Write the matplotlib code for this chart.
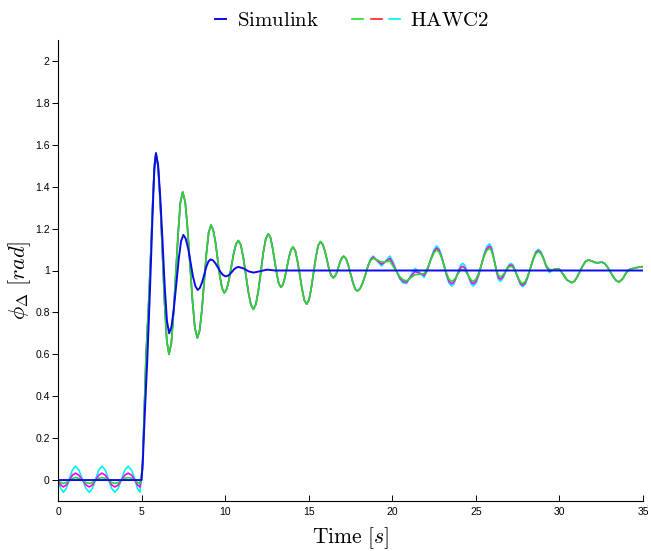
import matplotlib
matplotlib.use('Agg')
import matplotlib.pyplot as plt
from matplotlib.lines import Line2D
from matplotlib.legend_handler import HandlerTuple, HandlerLine2D

plt.rcParams['mathtext.fontset'] = 'cm'

# ---------------- data ----------------
# HAWC2, before the step (three variants)
t_pre = [0, 0.16, 0.32, 0.5, 0.68, 0.86, 1.04, 1.25, 1.46, 1.67, 1.87, 2.06, 2.25,
         2.44, 2.63, 2.83, 3.02, 3.21, 3.4, 3.6, 3.8, 4.0, 4.2, 4.4, 4.6, 4.75, 4.9]
green_pre = [0.000, -0.012, -0.016, -0.012, -0.002, 0.008, 0.012, 0.008, -0.002, -0.012,
             -0.016, -0.012, -0.002, 0.008, 0.012, 0.008, -0.002, -0.012, -0.016, -0.012,
             -0.002, 0.008, 0.012, 0.008, -0.002, -0.012, -0.016]
magenta_pre = [0.000, -0.023, -0.033, -0.023, 0.000, 0.023, 0.033, 0.023, 0.000, -0.023,
               -0.033, -0.023, 0.000, 0.023, 0.033, 0.023, 0.000, -0.023, -0.033, -0.023,
               0.000, 0.023, 0.033, 0.023, 0.000, -0.023, -0.033]
cyan_pre = [0.000, -0.040, -0.058, -0.040, 0.004, 0.048, 0.066, 0.048, 0.004, -0.040,
            -0.058, -0.040, 0.004, 0.048, 0.066, 0.048, 0.004, -0.040, -0.058, -0.040,
            0.004, 0.048, 0.066, 0.048, 0.004, -0.040, -0.058]

# HAWC2, transient (shared by the three variants)
t_main = [5.05, 5.15, 5.27, 5.4, 5.55, 5.68, 5.78, 5.86,
          5.99, 6.12, 6.25, 6.38, 6.51, 6.64,
          6.78, 6.91, 7.05, 7.19, 7.32, 7.46,
          7.61, 7.75, 7.9, 8.05, 8.19, 8.34,
          8.475, 8.61, 8.745, 8.88, 9.015, 9.15,
          9.28, 9.42, 9.55, 9.68, 9.82, 9.95,
          10.09, 10.23, 10.37, 10.51, 10.65, 10.79,
          10.94, 11.09, 11.24, 11.39, 11.54, 11.69,
          11.84, 11.99, 12.14, 12.28, 12.43, 12.58,
          12.71, 12.83, 12.96, 13.09, 13.21, 13.34,
          13.46, 13.58, 13.70, 13.82, 13.94, 14.06,
          14.2, 14.33, 14.47, 14.61, 14.74, 14.88,
          15.02, 15.15, 15.29, 15.43, 15.56, 15.7,
          15.83, 15.96, 16.09, 16.21, 16.34, 16.47,
          16.57, 16.68, 16.78, 16.88, 16.99, 17.09,
          17.23, 17.36, 17.5, 17.64, 17.77, 17.91,
          18.07, 18.23, 18.39]
v_main = [0.05, 0.3, 0.6, 0.8, 1.08, 1.35, 1.51, 1.56,
          1.496, 1.32, 1.08, 0.84, 0.664, 0.60,
          0.652, 0.794, 0.988, 1.181, 1.323, 1.375,
          1.328, 1.201, 1.027, 0.852, 0.725, 0.678,
          0.714, 0.813, 0.948, 1.082, 1.181, 1.217,
          1.195, 1.136, 1.055, 0.974, 0.915, 0.893,
          0.910, 0.956, 1.018, 1.081, 1.126, 1.143,
          1.121, 1.061, 0.979, 0.897, 0.837, 0.815,
          0.839, 0.905, 0.995, 1.085, 1.151, 1.175,
          1.158, 1.111, 1.048, 0.984, 0.937, 0.920,
          0.933, 0.968, 1.016, 1.064, 1.099, 1.112,
          1.094, 1.044, 0.976, 0.908, 0.858, 0.840,
          0.860, 0.915, 0.989, 1.064, 1.118, 1.138,
          1.126, 1.095, 1.052, 1.008, 0.977, 0.965,
          0.972, 0.991, 1.017, 1.042, 1.061, 1.068,
          1.057, 1.027, 0.985, 0.944, 0.913, 0.902,
          0.913, 0.941, 0.980]

# HAWC2, middle part (three variants)
t_mid = [18.54, 18.70, 18.86, 19.1, 19.36, 19.6, 19.86, 20.05, 20.26, 20.45,
         20.65, 20.86, 21.1, 21.36, 21.65, 21.9, 22.1, 22.3, 22.5, 22.65,
         22.8, 22.95, 23.1, 23.25, 23.4, 23.55, 23.66, 23.77, 23.88, 23.99,
         24.1, 24.21, 24.32, 24.42, 24.53, 24.64, 24.74, 24.85, 25.01, 25.17,
         25.33, 25.49, 25.65, 25.81, 25.92, 26.02, 26.13, 26.23, 26.34, 26.44,
         26.55, 26.66, 26.77, 26.88, 26.99, 27.1, 27.22, 27.33, 27.45, 27.57,
         27.68, 27.8, 27.96, 28.11, 28.27, 28.43, 28.58, 28.74, 28.9, 29.05,
         29.2, 29.4]
green_mid = [1.019, 1.048, 1.058, 1.050, 1.040, 1.042, 1.045, 1.020, 0.995, 0.970,
             0.955, 0.951, 0.965, 0.980, 0.982, 0.985, 1.010, 1.050, 1.085, 1.098,
             1.088, 1.061, 1.023, 0.986, 0.958, 0.948, 0.952, 0.963, 0.977, 0.992,
             1.002, 1.006, 1.002, 0.992, 0.977, 0.963, 0.952, 0.948, 0.959, 0.988,
             1.027, 1.067, 1.095, 1.106, 1.097, 1.072, 1.038, 1.004, 0.979, 0.970,
             0.973, 0.983, 0.995, 1.008, 1.017, 1.020, 1.015, 1.000, 0.979, 0.959,
             0.944, 0.938, 0.948, 0.976, 1.014, 1.052, 1.080, 1.090, 1.080, 1.055,
             1.025, 1.005]
magenta_mid = [1.020, 1.051, 1.064, 1.047, 1.030, 1.043, 1.057, 1.030, 0.995, 0.965,
               0.947, 0.944, 0.970, 0.995, 0.986, 0.976, 1.005, 1.052, 1.092, 1.107,
               1.096, 1.065, 1.022, 0.980, 0.948, 0.937, 0.942, 0.958, 0.978, 0.999,
               1.014, 1.020, 1.014, 0.999, 0.978, 0.958, 0.942, 0.937, 0.949, 0.982,
               1.027, 1.072, 1.104, 1.116, 1.106, 1.077, 1.038, 0.998, 0.969, 0.959,
               0.963, 0.976, 0.993, 1.010, 1.022, 1.027, 1.021, 1.003, 0.979, 0.955,
               0.937, 0.930, 0.941, 0.972, 1.013, 1.054, 1.084, 1.095, 1.084, 1.057,
               1.022, 0.998]
cyan_mid = [1.022, 1.055, 1.069, 1.045, 1.021, 1.045, 1.069, 1.040, 0.995, 0.960,
            0.940, 0.938, 0.975, 1.010, 0.990, 0.968, 1.000, 1.055, 1.100, 1.117,
            1.104, 1.069, 1.022, 0.974, 0.939, 0.926, 0.933, 0.953, 0.980, 1.007,
            1.027, 1.034, 1.027, 1.007, 0.980, 0.953, 0.933, 0.926, 0.940, 0.976,
            1.027, 1.077, 1.114, 1.127, 1.115, 1.082, 1.038, 0.993, 0.960, 0.948,
            0.954, 0.970, 0.991, 1.013, 1.028, 1.034, 1.027, 1.006, 0.979, 0.951,
            0.930, 0.923, 0.935, 0.968, 1.012, 1.057, 1.089, 1.101, 1.088, 1.060,
            1.020, 0.990]

# HAWC2, final part (shared)
t_end = [29.6, 29.8, 30.0, 30.2, 30.45, 30.73, 30.9, 31.06, 31.23, 31.4, 31.56, 31.73,
         31.95, 32.13, 32.3, 32.53, 32.7, 32.88, 33.05, 33.23, 33.4, 33.58, 33.8, 34.0,
         34.2, 34.5, 34.92, 35.0]
v_end = [1.003, 1.008, 1.006, 0.985, 0.955, 0.942, 0.949, 0.969, 0.996, 1.023, 1.043, 1.050,
         1.045, 1.038, 1.037, 1.040, 1.034, 1.016, 0.993, 0.969, 0.951, 0.945, 0.962, 0.990,
         1.005, 1.012, 1.018, 1.018]

# Simulink
t_sim = [0, 5.0, 5.08, 5.2, 5.34, 5.5, 5.65, 5.76, 5.86,
         5.99, 6.12, 6.26, 6.39, 6.52, 6.65,
         6.79, 6.93, 7.08, 7.22, 7.36, 7.5,
         7.64, 7.79, 7.93, 8.07, 8.22, 8.36,
         8.49, 8.62, 8.75, 8.87, 9.0, 9.13,
         9.28, 9.43, 9.58, 9.73, 9.88, 10.03,
         10.16, 10.29, 10.42, 10.54, 10.67, 10.8,
         11.1, 11.4, 11.7, 12.0, 12.5, 13.0, 35.0]
v_sim = [0, 0, 0.1, 0.33, 0.57, 0.9, 1.25, 1.48, 1.56,
         1.502, 1.345, 1.13, 0.915, 0.758, 0.70,
         0.732, 0.818, 0.935, 1.053, 1.139, 1.17,
         1.152, 1.104, 1.039, 0.973, 0.925, 0.907,
         0.917, 0.944, 0.98, 1.017, 1.043, 1.053,
         1.048, 1.033, 1.013, 0.992, 0.978, 0.972,
         0.975, 0.983, 0.995, 1.006, 1.014, 1.017,
         1.010, 0.996, 0.990, 0.995, 1.004, 1.0, 1.0]

xticks = [0, 5, 10, 15, 20, 25, 30, 35]
yticks = [0, 0.2, 0.4, 0.6, 0.8, 1.0, 1.2, 1.4, 1.6, 1.8, 2.0]
ytick_labels = ['0', '0.2', '0.4', '0.6', '0.8', '1', '1.2', '1.4', '1.6', '1.8', '2']

# ---------------- figure ----------------
fig = plt.figure(figsize=(6.51, 5.51), dpi=100)
ax = fig.add_axes([58 / 651, 50 / 551, 585 / 651, 461 / 551])

t_h = t_pre + t_main + t_mid + t_end
green = green_pre + v_main + green_mid + v_end
magenta = magenta_pre + v_main + magenta_mid + v_end
cyan = cyan_pre + v_main + cyan_mid + v_end

c_blue = '#0a0aee'
c_green = '#22dd22'
c_mag = '#ff00ff'
c_cyan = '#00f0f0'

l_cyan, = ax.plot(t_h, cyan, color=c_cyan, lw=1.2)
l_mag, = ax.plot(t_h, magenta, color=c_mag, lw=1.2)
l_green, = ax.plot(t_h, green, color=c_green, lw=1.2)
l_sim, = ax.plot(t_sim, v_sim, color=c_blue, lw=1.4)

ax.set_xlim(0, 35)
ax.set_ylim(-0.1, 2.1)
ax.set_xticks(xticks)
ax.set_yticks(yticks)
ax.set_yticklabels(ytick_labels)
for s in ['top', 'right']:
    ax.spines[s].set_visible(False)
for s in ['left', 'bottom']:
    ax.spines[s].set_linewidth(0.8)
ax.tick_params(axis='x', direction='in', length=4, width=0.7, labelsize=7.5, pad=4)
ax.tick_params(axis='y', direction='out', length=4, width=0.7, labelsize=7.5, pad=2)
for lab in ax.get_xticklabels() + ax.get_yticklabels():
    lab.set_fontfamily('Liberation Sans')

ax.set_xlabel(r'$\mathrm{Time}\ [s]$', fontsize=15.5, labelpad=6)
ax.set_ylabel(r'$\phi_\Delta\ [rad]$', fontsize=16, labelpad=2)
ax.yaxis.set_label_coords(-0.043, 0.478)


class ShortHandler(HandlerLine2D):
    def create_artists(self, legend, orig_handle, xdescent, ydescent, width, height,
                       fontsize, trans):
        seg = width * 0.24
        y = (height - ydescent) / 2
        line = Line2D([-xdescent + width - seg, -xdescent + width], [y, y],
                      color=orig_handle.get_color(), lw=orig_handle.get_linewidth())
        line.set_transform(trans)
        return [line]


red_proxy = Line2D([], [], color='#ff2020', lw=1.2)
fig.legend([l_sim, (l_green, red_proxy, l_cyan)],
           [r'$\mathrm{Simulink}$', r'$\mathrm{HAWC2}$'],
           handler_map={l_sim: ShortHandler(), tuple: HandlerTuple(ndivide=None, pad=0.35)},
           loc='center', bbox_to_anchor=(334 / 651, 1 - 20 / 551), ncol=2, frameon=False,
           fontsize=15, handlelength=2.3, handletextpad=0.5, columnspacing=1.6)

fig.savefig('out.png', dpi=100)
